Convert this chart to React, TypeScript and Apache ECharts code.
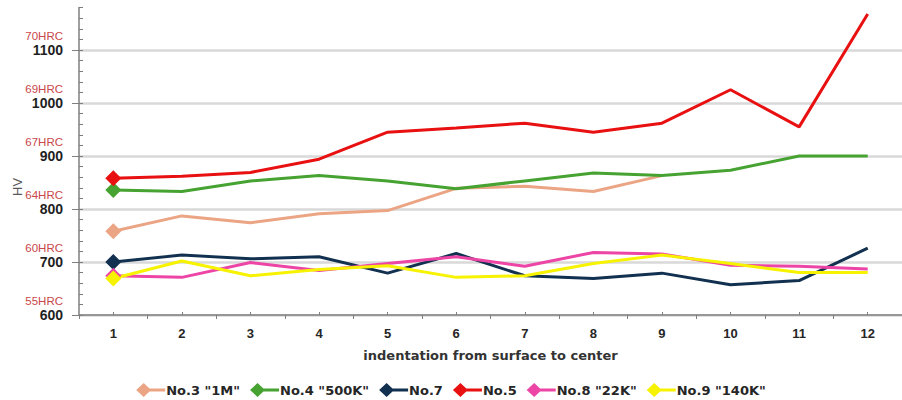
import React, { useEffect, useRef } from "react";
import * as echarts from "echarts";

const categories = [1, 2, 3, 4, 5, 6, 7, 8, 9, 10, 11, 12];
const hvTicks = [600, 700, 800, 900, 1000, 1100];
const hrcLabels = ["55HRC", "60HRC", "64HRC", "67HRC", "69HRC", "70HRC"];

const no3 = [758, 787, 774, 791, 797, 839, 843, 833, 863, null, null, null];
const no4 = [836, 833, 853, 863, 853, 838, 853, 868, 863, 873, 900, 900];
const no7 = [700, 713, 706, 710, 679, 716, 674, 669, 679, 657, 665, 726];
const no5 = [858, 862, 869, 894, 945, 953, 962, 945, 962, 1025, 955, 1168];
const no8 = [674, 671, 699, 684, 697, 710, 692, 718, 715, 694, 692, 687];
const no9 = [669, 702, 674, 686, 693, 671, 674, 697, 713, 697, 680, 680];

const seriesNames = ['No.3 "1M"', 'No.4 "500K"', "No.7", "No.5", 'No.8 "22K"', 'No.9 "140K"'];
const seriesColors = ["#eba585", "#46a332", "#12304f", "#e81010", "#ec45a6", "#f7f200"];
const seriesValues = [no3, no4, no7, no5, no8, no9];

const legendIcon =
  "path://M0 7 L7.5 0 L15 7 L7.5 14 Z M12 5.5 L29 5.5 L29 8.5 L12 8.5 Z";

export default function App() {
  const ref = useRef<HTMLDivElement>(null);
  useEffect(() => {
    if (!ref.current) return;
    document.body.style.margin = "0";
    const chart = echarts.init(ref.current, undefined, { renderer: "svg" });
    const yMin = 600;
    const yMax = 1180;
    const gridLeft = 79;
    const gridTop = 7.6;
    const gridHeight = 307.4;
    const gridWidth = 833;
    const font = "Liberation Sans";
    const wideFont = "DejaVu Sans";
    const hrcMap: Record<number, string> = {};
    hvTicks.forEach((v, i) => (hrcMap[v] = hrcLabels[i]));

    const series = seriesValues.map((vals, si) => ({
      name: seriesNames[si],
      type: "line",
      xAxisIndex: 0,
      yAxisIndex: 0,
      symbol: "diamond",
      symbolSize: 16,
      color: seriesColors[si],
      lineStyle: { width: 3, color: seriesColors[si] },
      itemStyle: { color: seriesColors[si] },
      connectNulls: false,
      data: vals.map((v, i) =>
        i === 0
          ? { value: [categories[i], v] }
          : { value: [categories[i], v], symbol: "none" }
      ),
    }));

    chart.setOption({
      animation: false,
      textStyle: { fontFamily: font },
      grid: { left: gridLeft, top: gridTop, width: gridWidth, height: gridHeight },
      legend: {
        top: 378,
        left: "center",
        itemWidth: 29,
        itemHeight: 14,
        itemGap: 10,
        icon: legendIcon,
        data: seriesNames.map((n) => ({ name: n, icon: legendIcon })),
        itemStyle: { borderWidth: 0 },
        lineStyle: { width: 0 },
        textStyle: { fontFamily: wideFont, fontWeight: "bold", fontSize: 13, color: "#262626", padding: [0, 0, 0, -4] },
      },
      xAxis: [
        {
          type: "value",
          min: 0.5,
          max: 12.5,
          name: "indentation from surface to center",
          nameLocation: "middle",
          nameGap: 34,
          nameTextStyle: { fontFamily: wideFont, fontWeight: "bold", fontSize: 13, color: "#333333" },
          axisLine: { show: true, onZero: false, lineStyle: { color: "#7f7f7f", width: 1.5 } },
          axisTick: { show: true, inside: true, length: 3, customValues: categories, lineStyle: { color: "#7f7f7f" } },
          axisLabel: {
            customValues: categories,
            margin: 12,
            fontFamily: font,
            fontWeight: "bold",
            fontSize: 13,
            color: "#262626",
            formatter: (v: number) => String(v),
          },
          splitLine: { show: false },
        },
        {
          type: "value",
          position: "bottom",
          min: 0.5,
          max: 12.5,
          axisLine: { show: false },
          axisTick: {
            show: true,
            inside: false,
            length: 4,
            customValues: categories.map((c) => c - 0.5).concat([12.5]),
            lineStyle: { color: "#7f7f7f" },
          },
          axisLabel: { show: false },
          splitLine: { show: false },
        },
      ],
      yAxis: [
        {
          type: "value",
          min: yMin,
          max: yMax,
          axisLine: { show: true, onZero: false, lineStyle: { color: "#7f7f7f", width: 1.5 } },
          axisTick: { show: true, inside: false, length: 7, customValues: hvTicks, lineStyle: { color: "#7f7f7f" } },
          axisLabel: {
            customValues: hvTicks,
            margin: 16,
            fontFamily: font,
            fontWeight: "bold",
            fontSize: 14,
            lineHeight: 14,
            color: "#1f1f1f",
            formatter: (v: number) => String(v),
          },
          splitLine: { show: true, lineStyle: { color: "#d9d9d9", width: 2.5 } },
        },
        {
          type: "value",
          min: yMin,
          max: yMax,
          position: "left",
          axisLine: { show: false },
          axisTick: { show: false },
          axisLabel: {
            customValues: hvTicks,
            margin: 16,
            verticalAlign: "bottom",
            fontFamily: font,
            fontSize: 11.5,
            lineHeight: 12,
            color: "#c9484a",
            padding: [0, 0, 8, 0],
            formatter: (v: number) => hrcMap[v] || "",
          },
          splitLine: { show: false },
        },
        {
          type: "value",
          min: yMin,
          max: yMax,
          interval: 20,
          position: "left",
          axisLine: { show: false },
          axisTick: { show: true, inside: true, length: 4, lineStyle: { color: "#7f7f7f" } },
          axisLabel: { show: false },
          splitLine: { show: false },
        },
      ],
      graphic: [
        {
          type: "text",
          x: 11,
          y: 196,
          rotation: Math.PI / 2,
          style: { text: "HV", fontFamily: font, fontSize: 13, fill: "#595959" },
        },
      ],
      series,
    });
    return () => chart.dispose();
  }, []);
  return <div ref={ref} style={{ width: 902, height: 400 }} />;
}
